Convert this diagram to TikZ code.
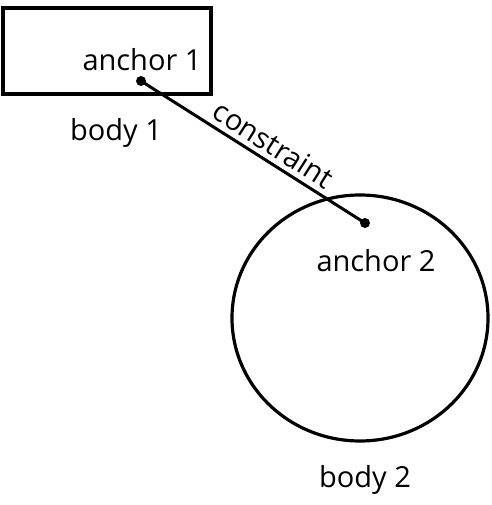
\documentclass[tikz,border=0pt]{standalone}
\usepackage{fontspec}
\setmainfont{Open Sans}
\usetikzlibrary{shapes.geometric}
\tikzset{
  bodybox/.style={draw, line width=3.2pt, inner sep=0pt},
  anchordot/.style={circle, fill, inner sep=0pt, minimum size=10pt},
  lbl/.style={font=\fontsize{29}{31}\selectfont, inner sep=0pt},
  link/.style={line width=3pt},
}

\begin{document}
\begin{tikzpicture}[x=1pt,y=-1pt]
  \useasboundingbox (0,0) rectangle (491,505);
  % bodies
  \node[bodybox, minimum width=208pt, minimum height=86pt] (body1) at (107,51) {};
  \node[bodybox, ellipse, minimum width=256pt, minimum height=246pt] (body2) at (360,318) {};
  % anchors
  \node[anchordot] (anc1) at (141,81) {};
  \node[anchordot] (anc2) at (365,223) {};
  % constraint
  \draw[link] (anc1.center) -- node[pos=0.55, above=5pt, sloped, lbl] (cstr) {constraint} (anc2.center);
  % labels
  \node[lbl] (lanc1) at (142,60) {anchor 1};
  \node[lbl] (lbody1) at (116,133) {body 1};
  \node[lbl] (lanc2) at (376,261) {anchor 2};
  \node[lbl] (lbody2) at (365,480) {body 2};
\end{tikzpicture}
\end{document}
